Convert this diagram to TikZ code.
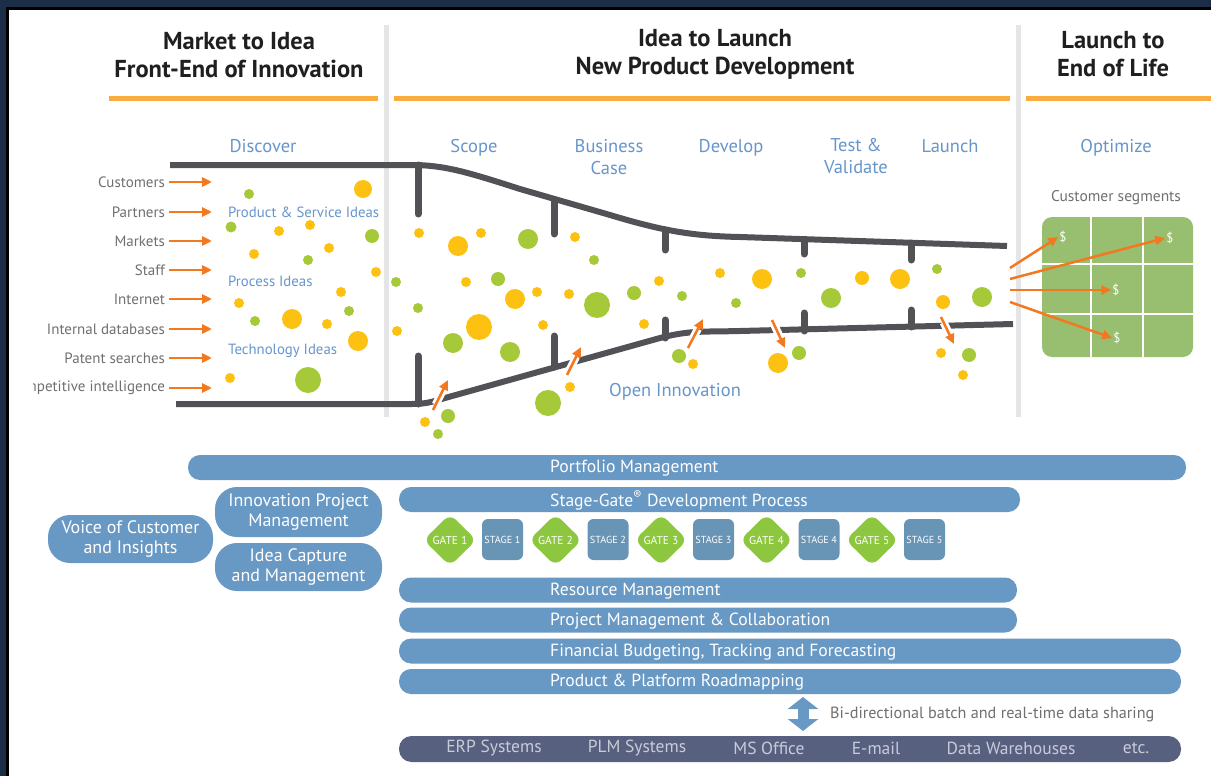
\documentclass[tikz,border=0pt]{standalone}
\usepackage{fontspec}
\setmainfont{PT Sans}
\usetikzlibrary{arrows.meta,shapes.geometric,positioning}
\definecolor{frameblue}{RGB}{28,46,71}
\definecolor{headorange}{RGB}{250,172,62}
\definecolor{sepgrey}{RGB}{229,229,231}
\definecolor{funnelgrey}{RGB}{82,82,86}
\definecolor{phaseblue}{RGB}{102,150,204}
\definecolor{labelgrey}{RGB}{112,112,112}
\definecolor{floworange}{RGB}{243,121,32}
\definecolor{ideayellow}{RGB}{253,194,17}
\definecolor{ideagreen}{RGB}{166,201,57}
\definecolor{barblue}{RGB}{104,152,196}
\definecolor{gategreen}{RGB}{141,198,63}
\definecolor{stageblue}{RGB}{104,148,182}
\definecolor{sysslate}{RGB}{88,96,128}
\definecolor{systext}{RGB}{200,204,216}
\definecolor{segmentgreen}{RGB}{152,190,112}

\tikzset{
  headline/.style={font=\bfseries\fontsize{24.5}{28}\selectfont,align=center,text=black!88,inner sep=0},
  phase/.style={font=\fontsize{18.5}{22}\selectfont,align=center,text=phaseblue,inner sep=0},
  source/.style={font=\fontsize{15}{18}\selectfont,text=labelgrey,anchor=east,inner sep=0,outer xsep=4},
  ideatype/.style={font=\fontsize{14.8}{17}\selectfont,text=phaseblue,anchor=west,inner sep=0},
  flow/.style={floworange,line width=2.5,-{Triangle[length=10,width=9]}},
  flowgap/.style={white,line width=8,shorten <=6,shorten >=11},
  funnel/.style={funnelgrey,line width=6},
  gatebar/.style={funnelgrey,line width=7,line cap=round},
  headbar/.style={headorange,line width=5},
  bar/.style={fill=barblue,rounded corners=12,minimum height=25,inner sep=0},
  bartext/.style={font=\fontsize{17.6}{19}\selectfont,text=white,anchor=west,inner sep=0,yshift=-1},
  pill/.style={fill=barblue,rounded corners=22,text=white,align=center,inner sep=0,font=\fontsize{18}{20}\selectfont},
  gate/.style={diamond,fill=gategreen,rounded corners=8,minimum width=53,minimum height=52,inner sep=0,text=white,font=\fontsize{11.5}{13}\selectfont},
  stagebox/.style={fill=stageblue,rounded corners=6,minimum width=41,minimum height=41,inner sep=0,text=white,font=\fontsize{10.2}{12}\selectfont},
  systxt/.style={font=\fontsize{17.5}{20}\selectfont,text=systext,inner sep=0},
  note/.style={font=\fontsize{16.2}{19}\selectfont,text=labelgrey,anchor=west,inner sep=0},
  dollar/.style={font=\fontsize{13}{15}\selectfont,text=white,inner sep=1},
  syncarrow/.style={barblue,line width=11,{Triangle[length=12,width=30]}-{Triangle[length=12,width=30]}}
}

\begin{document}
\begin{tikzpicture}[x=1pt,y=-1pt]
\useasboundingbox (0,0) rectangle (1211,776);
% frame
\fill[frameblue] (0,0) rectangle (1211,776);
\fill[black] (6,7) rectangle (1211,776);
\fill[white] (9,10) rectangle (1211,776);

% headings
\node[headline] (frontend) at (239,55) {Market to Idea\\Front-End of Innovation};
\node[headline] (npd) at (715,54) {Idea to Launch\\New Product Development};
\node[headline] (endoflife) at (1113,54) {Launch to\\End of Life};
\draw[headbar] (109,99) -- (378,99);
\draw[headbar] (394,99) -- (1010,99);
\draw[headbar] (1026,99) -- (1211,99);
\fill[sepgrey] (383.5,25) rectangle (388.5,417);
\fill[sepgrey] (1015.5,25) rectangle (1020.5,417);

% phases
\node[phase,anchor=base] (discover) at (263,152.5) {Discover};
\node[phase,anchor=base] (scope) at (474,152.5) {Scope};
\node[phase] (buscase) at (609,157) {Business\\Case};
\node[phase,anchor=base] (develop) at (731,152.5) {Develop};
\node[phase] (testval) at (856,156) {Test \&\\Validate};
\node[phase,anchor=base] (launch) at (950,152.5) {Launch};
\node[phase,anchor=base] (optimize) at (1116,152.5) {Optimize};

% idea sources
\begin{scope}
\clip (33,160) rectangle (230,400);
\foreach \src/\y [count=\k] in {Customers/182,Partners/212,Markets/241,Staff/270,Internet/299,Internal databases/329,Patent searches/358,Competitive intelligence/388}{
  \node[source] (src\k) at (169,\y) {\src};
  \coordinate (srcend\k) at (212,\y);
  \draw[flow] (src\k.east) -- (srcend\k);
}
\end{scope}
\node[ideatype] (prodideas) at (228,212) {Product \& Service Ideas};
\node[ideatype] (procideas) at (228,281) {Process Ideas};
\node[ideatype] (techideas) at (228,351) {Technology Ideas};

% funnel
\draw[funnel] (170,165) -- (412,165) .. controls (445,165) and (470,173) .. (520,189) -- (610,215) .. controls (660,230) and (690,236) .. (740,237) -- (1007,246);
\draw[funnel] (176,404) -- (412,404) .. controls (425,404) and (432,402) .. (445,398) -- (660,338) .. controls (690,330) and (705,332) .. (740,331) -- (1013,324);
\foreach \x/\ya/\yb in {418/165/214,554/200/234,665/230/250,804/240/254,911/243/260}
  \draw[gatebar] (\x,\ya) -- (\x,\yb);
\foreach \x/\ya/\yb in {418/404/356,554/367/336,665/338/320,804/331/313,911/327/310}
  \draw[gatebar] (\x,\ya) -- (\x,\yb);

% ideas
\foreach \x/\y/\r in {363/189/9,279/231/5,310/225/5,254/254/5,329/248/5,376/272/5,341/292/5,239/303/5,292/319/10,327/324/5,358/341/10,397/331/5,230/378/5,419/233/5,458/246/10,481/233/5,575/237/5,466/282/5,515/299/10,537/292/5,569/294/5,659/281/5,720/273/5,762/279/10,479/327/13,543/325/5,644/324/5,693/364/5,570/387/5,425/422/5,778/363/10,862/278/7,900/279/10,943/302/7,941/353/5,963/375/5}
  \fill[ideayellow] (\x,\y) circle (\r pt);
\foreach \x/\y/\r in {249/194/5,231/227/5.5,372/236/7,308/260/5,396/282/5,349/311/5,255/321/5,308/380/13,418/308/5,528/239/10,594/260/5,498/279/7,597/305/13,634/293/7,682/296/5,736/303/5,453/343/10,510/352/10,679/356/7,548/403/13,448/416/7,438/434/5,801/273/5,831/298/10,937/269/5,982/297/10,799/353/7,969/355/7}
  \fill[ideagreen] (\x,\y) circle (\r pt);

% open innovation in and out
\foreach \xa/\ya/\xb/\yb [count=\k] in {433/410/448/380,567/375/581/347,688/348/703/319,772/320/785/348,941/317/954/344}{
  \coordinate (oia\k) at (\xa,\ya);
  \coordinate (oib\k) at (\xb,\yb);
  \draw[flowgap] (oia\k) -- (oib\k);
  \draw[flow] (oia\k) -- (oib\k);
}
\node[phase] (openinno) at (675,392) {Open Innovation};

% customer segments
\node[font=\fontsize{15.5}{18}\selectfont,text=labelgrey,inner sep=0] (segtitle) at (1116,198) {Customer segments};
\fill[segmentgreen,rounded corners=10] (1042,217) rectangle (1193,357);
\draw[white,line width=1.5] (1091,217) -- (1091,357) (1143,217) -- (1143,357) (1042,264) -- (1193,264) (1042,314) -- (1193,314);
\foreach \x/\y [count=\k] in {1063/237,1170/238,1116/290,1117/338}
  \node[dollar] (dollar\k) at (\x,\y) {\$};
\foreach \y [count=\k] in {268,279,290,302}{
  \coordinate (segstart\k) at (1010,\y);
  \draw[flow] (segstart\k) -- (dollar\k.west);
}

% management layers
\node[bar,minimum width=998] (portfolio) at (687,467.5) {};
\node[bartext] (portfoliotxt) at (550,467.5) {Portfolio Management};
\node[bar,minimum width=621] (stagegate) at (709.5,499.5) {};
\node[bartext] (stagegatetxt) at (550,499.5) {Stage-Gate\textsuperscript{\textregistered} Development Process};
\foreach \k in {1,...,5}{
  \node[gate] (gate\k) at ({450+105.5*(\k-1)},540) {GATE \k};
  \node[stagebox] (stage\k) at ({502.5+105.5*(\k-1)},539.5) {STAGE \k};
}
\node[bar,minimum width=618] (resource) at (708,590) {};
\node[bartext] (resourcetxt) at (550,590) {Resource Management};
\node[bar,minimum width=618] (projmgmt) at (708,620) {};
\node[bartext] (projmgmttxt) at (550,620) {Project Management \& Collaboration};
\node[bar,minimum width=782] (finance) at (790,651) {};
\node[bartext] (financetxt) at (550,651) {Financial Budgeting, Tracking and Forecasting};
\node[bar,minimum width=782] (roadmap) at (790,681.5) {};
\node[bartext] (roadmaptxt) at (550,681.5) {Product \& Platform Roadmapping};

\node[pill,minimum width=165,minimum height=48] (voc) at (130.5,539) {Voice of Customer\\and Insights};
\node[pill,minimum width=167,minimum height=50] (innopm) at (298.5,512) {Innovation Project\\Management};
\node[pill,minimum width=167,minimum height=48] (ideacap) at (298.5,567) {Idea Capture\\and Management};

% data sharing
\coordinate (synctop) at (803,697);
\coordinate (syncbot) at (803,731);
\draw[syncarrow] (synctop) -- (syncbot);
\node[note] (synctxt) at (830,714) {Bi-directional batch and real-time data sharing};

\node[bar,fill=sysslate,minimum width=782,minimum height=26,rounded corners=12.5] (systems) at (790,749) {};
\foreach \x/\sys [count=\k] in {494/ERP Systems,637/PLM Systems,769/MS Office,876/E-mail,1011/Data Warehouses,1136/etc.}
  \node[systxt] (sys\k) at (\x,748) {\sys};
\end{tikzpicture}
\end{document}
